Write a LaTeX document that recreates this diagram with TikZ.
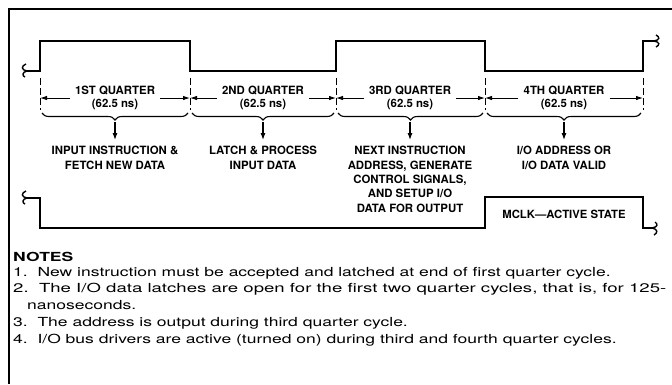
\documentclass[tikz,border=0pt]{standalone}
\usepackage{fontspec}
\usepackage{graphicx}
\setmainfont{TeX Gyre Heros}
\usetikzlibrary{arrows.meta,decorations.pathreplacing,calc}
\newcommand{\wideline}[1]{\scalebox{1.40}[1]{#1}}
\tikzset{
  wave/.style={line width=2pt, line join=miter},
  frame/.style={line width=1.8pt},
  dline/.style={line width=0.8pt, dash pattern=on 7pt off 3pt},
  dimarr/.style={line width=0.9pt, -{Latex[length=7pt,width=4.5pt]}},
  brc/.style={line width=1.1pt, decorate, decoration={brace, mirror, amplitude=7pt}},
  downarr/.style={line width=1.1pt, -{Latex[length=7pt,width=5pt]}, shorten >=6pt},
  qlab/.style={font=\bfseries\fontsize{11.4}{12.5}\selectfont, align=center, inner sep=1pt},
  tlab/.style={font=\bfseries\fontsize{11.4}{14.4}\selectfont, align=center, inner sep=0pt, anchor=north},
  noteline/.style={anchor=base west, inner sep=0pt, font=\fontsize{12.5}{17}\selectfont},
  sq/.style={line width=1.4pt},
}
\begin{document}
\begin{tikzpicture}[x=1pt,y=-1pt]
\useasboundingbox (0,0) rectangle (672,384);
% frame
\draw[frame] (9,384) -- (9,9) -- (672,9);
% upper clock
\draw[wave] (27,71) -- (40,71) -- (40,41) -- (190,41) -- (190,71) -- (336,71) -- (336,41) -- (485,41) -- (485,71) -- (643,71) -- (643,41) -- (654,41);
\draw[sq] (27,71) .. controls (21,70) and (21,66) .. (26,64);
\draw[sq] (27,71) .. controls (22,72) and (22,76) .. (25,77);
\draw[sq] (654,41) .. controls (660,40) and (660,37) .. (656,35);
\draw[sq] (654,41) .. controls (660,42) and (660,45) .. (656,47);
% dashed lines
\foreach \n/\x in {1/40,2/190,3/336,4/485,5/643}{
  \coordinate (dt\n) at (\x,78);
  \coordinate (db\n) at (\x,110);
  \draw[dline] (dt\n) -- (db\n);
}
% quarter labels
\node[qlab] (q1) at (115,98) {1ST QUARTER\\(62.5 ns)};
\node[qlab] (q2) at (263,98) {2ND QUARTER\\(62.5 ns)};
\node[qlab] (q3) at (410,98) {3RD QUARTER\\(62.5 ns)};
\node[qlab] (q4) at (564,98) {4TH QUARTER\\(62.5 ns)};
\foreach \q/\l/\r in {1/1/2,2/2/3,3/3/4,4/4/5}{
  \coordinate (ql\q) at ($(q\q.west)+(-4,0)$);
  \coordinate (qr\q) at ($(q\q.east)+(4,0)$);
  \draw[dimarr] (ql\q) -- (ql\q -| dt\l);
  \draw[dimarr] (qr\q) -- (qr\q -| dt\r);
}
% braces
\foreach \n/\a/\b in {1/42/188,2/192/334,3/338/483,4/487/641}{
  \draw[brc] (\a,113) -- (\b,113);
}
\coordinate (b1) at (115,122);
\coordinate (b2) at (263,122);
\coordinate (b3) at (410,122);
\coordinate (b4) at (564,122);
% descriptions
\node[tlab] (t1) at (115,146) {INPUT INSTRUCTION \&\\FETCH NEW DATA};
\node[tlab] (t2) at (263,146) {LATCH \& PROCESS\\INPUT DATA};
\node[tlab] (t3) at (410,146) {NEXT INSTRUCTION\\ADDRESS, GENERATE\\CONTROL SIGNALS,\\AND SETUP I/O\\DATA FOR OUTPUT};
\node[tlab] (t4) at (564,146) {I/O ADDRESS OR\\I/O DATA VALID};
\foreach \n in {1,2,3,4}{
  \draw[downarr] (b\n) -- (t\n.north);
}
% lower waveform (MCLK)
\draw[wave] (27,198) -- (40,198) -- (40,228) -- (485,228) -- (485,197) -- (643,197) -- (643,228) -- (652,228);
\draw[sq] (27,198) .. controls (21,197) and (21,193) .. (26,191);
\draw[sq] (27,198) .. controls (22,199) and (22,203) .. (25,204);
\draw[sq] (652,228) .. controls (658,227) and (658,224) .. (655,222);
\draw[sq] (652,228) .. controls (658,229) and (658,233) .. (654,235);
\node[font=\bfseries\fontsize{11.3}{13}\selectfont] (mclk) at (564,214) {MCLK---ACTIVE STATE};
% notes
\node[noteline, font=\bfseries\fontsize{12.5}{15}\selectfont] (notes) at (13,261) {\wideline{NOTES}};
\node[noteline] (n1) at (13,276) {\wideline{1.\ \ New instruction must be accepted and latched at end of first quarter cycle.}};
\node[noteline] (n2) at (13,292.5) {\resizebox{653pt}{\height}{2.\ \ The I/O data latches are open for the first two quarter cycles, that is, for 125-}};
\node[noteline] (n2b) at (27,309) {\wideline{nanoseconds.}};
\node[noteline] (n3) at (13,326) {\wideline{3.\ \ The address is output during third quarter cycle.}};
\node[noteline] (n4) at (13,343) {\wideline{4.\ \ I/O bus drivers are active (turned on) during third and fourth quarter cycles.}};
\end{tikzpicture}
\end{document}
